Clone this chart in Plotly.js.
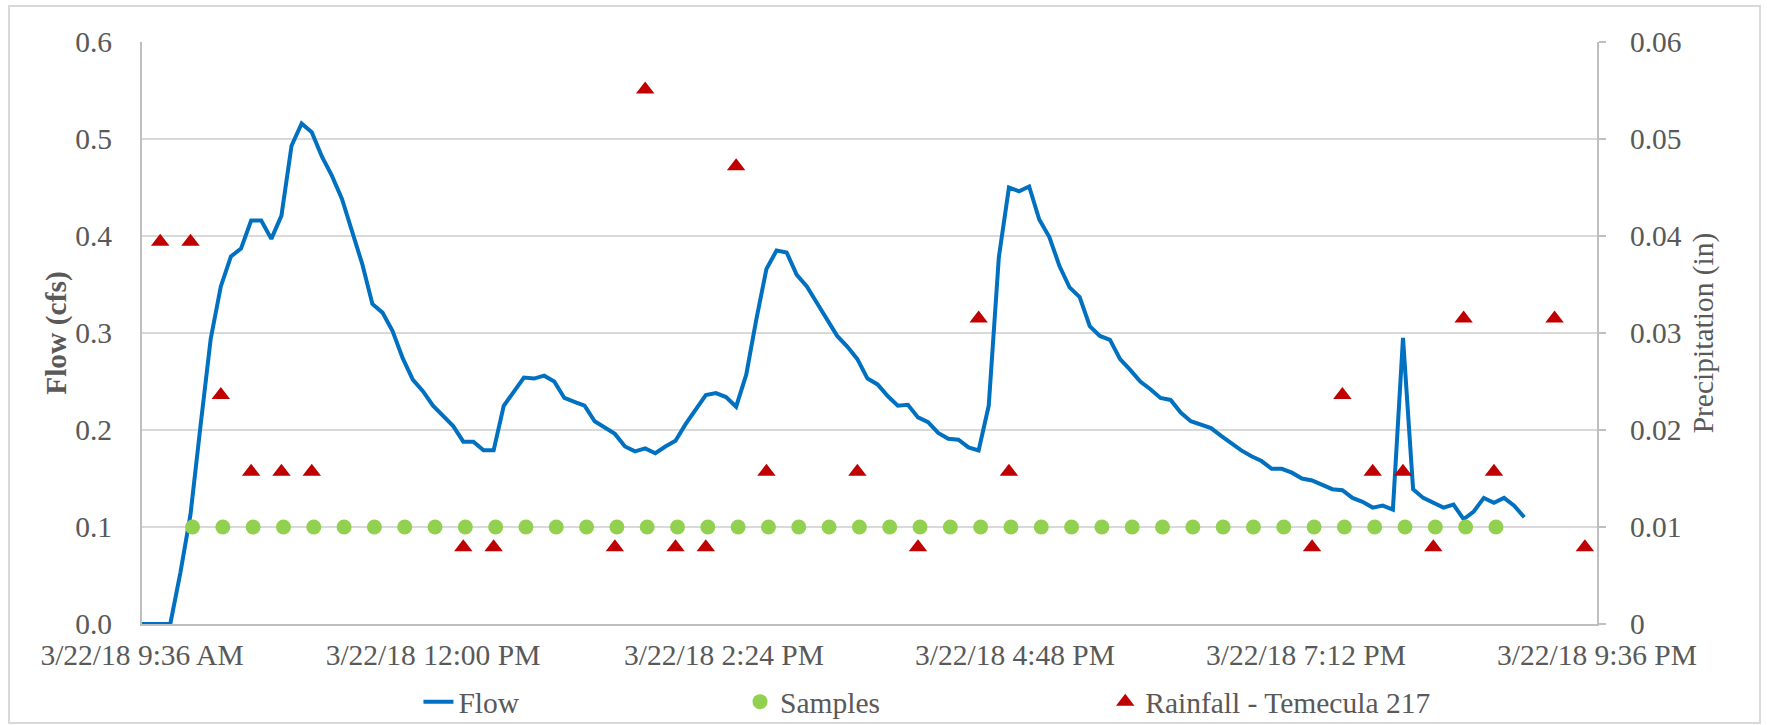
<!DOCTYPE html>
<html>
<head>
<meta charset="utf-8">
<script src="https://cdn.plot.ly/plotly-3.0.1.min.js"></script>
<style>html,body{margin:0;padding:0;background:#fff;}#chart{width:1767px;height:725px;}</style>
</head>
<body>
<div id="chart"></div>
<script>
const DAY = "2018-03-22 ";

const flowTimes = ["09:35","09:40","09:45","09:50","09:55","10:00","10:05","10:10","10:15","10:20","10:25","10:30","10:35","10:40","10:45","10:50","10:55","11:00","11:05","11:10","11:15","11:20","11:25","11:30","11:35","11:40","11:45","11:50","11:55","12:00","12:05","12:10","12:15","12:20","12:25","12:30","12:35","12:40","12:45","12:50","12:55","13:00","13:05","13:10","13:15","13:20","13:25","13:30","13:35","13:40","13:45","13:50","13:55","14:00","14:05","14:10","14:15","14:20","14:25","14:30","14:35","14:40","14:45","14:50","14:55","15:00","15:05","15:10","15:15","15:20","15:25","15:30","15:35","15:40","15:45","15:50","15:55","16:00","16:05","16:10","16:15","16:20","16:25","16:30","16:35","16:40","16:45","16:50","16:55","17:00","17:05","17:10","17:15","17:20","17:25","17:30","17:35","17:40","17:45","17:50","17:55","18:00","18:05","18:10","18:15","18:20","18:25","18:30","18:35","18:40","18:45","18:50","18:55","19:00","19:05","19:10","19:15","19:20","19:25","19:30","19:35","19:40","19:45","19:50","19:55","20:00","20:05","20:10","20:15","20:20","20:25","20:30","20:35","20:40","20:45","20:50","20:55","21:00"];

const flowValues = [0,0,0,0,0.053,0.113,0.205,0.294,0.348,0.379,0.387,0.416,0.416,0.397,0.421,0.493,0.516,0.507,0.482,0.462,0.438,0.404,0.371,0.330,0.321,0.302,0.274,0.252,0.240,0.225,0.214,0.204,0.188,0.188,0.179,0.179,0.225,0.240,0.254,0.253,0.256,0.250,0.233,0.229,0.225,0.209,0.203,0.196,0.183,0.178,0.181,0.176,0.183,0.189,0.206,0.221,0.236,0.238,0.234,0.224,0.257,0.314,0.366,0.385,0.383,0.360,0.348,0.331,0.314,0.297,0.286,0.273,0.253,0.247,0.235,0.225,0.226,0.213,0.208,0.197,0.191,0.190,0.182,0.179,0.225,0.378,0.450,0.446,0.451,0.417,0.399,0.369,0.347,0.337,0.307,0.297,0.293,0.273,0.262,0.250,0.242,0.233,0.231,0.218,0.209,0.205,0.202,0.194,0.186,0.179,0.173,0.168,0.160,0.160,0.156,0.150,0.148,0.144,0.139,0.138,0.130,0.126,0.120,0.122,0.118,0.295,0.139,0.130,0.125,0.120,0.123,0.108,0.116,0.130,0.125,0.130,0.122,0.110];

const sampleTimes = ["10:01","10:16","10:31","10:46","11:01","11:16","11:31","11:46","12:01","12:16","12:31","12:46","13:01","13:16","13:31","13:46","14:01","14:16","14:31","14:46","15:01","15:16","15:31","15:46","16:01","16:16","16:31","16:46","17:01","17:16","17:31","17:46","18:01","18:16","18:31","18:46","19:01","19:16","19:31","19:46","20:01","20:16","20:31","20:46"];
const sampleValues = [0.1,0.1,0.1,0.1,0.1,0.1,0.1,0.1,0.1,0.1,0.1,0.1,0.1,0.1,0.1,0.1,0.1,0.1,0.1,0.1,0.1,0.1,0.1,0.1,0.1,0.1,0.1,0.1,0.1,0.1,0.1,0.1,0.1,0.1,0.1,0.1,0.1,0.1,0.1,0.1,0.1,0.1,0.1,0.1];

const rainTimes = ["09:45","10:00","10:15","10:30","10:45","11:00","12:15","12:30","13:30","13:45","14:00","14:15","14:30","14:45","15:30","16:00","16:30","16:45","19:15","19:30","19:45","20:00","20:15","20:30","20:45","21:15","21:30"];
const rainValues = [0.0394,0.0394,0.0236,0.0157,0.0157,0.0157,0.0079,0.0079,0.0079,0.0551,0.0079,0.0079,0.0472,0.0157,0.0157,0.0079,0.0315,0.0157,0.0079,0.0236,0.0157,0.0157,0.0079,0.0315,0.0157,0.0315,0.0079];

const xTickTimes = ["09:36","12:00","14:24","16:48","19:12","21:36"];
const xTickLabels = ["3/22/18 9:36 AM","3/22/18 12:00 PM","3/22/18 2:24 PM","3/22/18 4:48 PM","3/22/18 7:12 PM","3/22/18 9:36 PM"];
const yLeftTicks = [0,0.1,0.2,0.3,0.4,0.5,0.6];
const yLeftLabels = ["0.0","0.1","0.2","0.3","0.4","0.5","0.6"];
const yRightTicks = [0,0.01,0.02,0.03,0.04,0.05,0.06];
const yRightLabels = ["0","0.01","0.02","0.03","0.04","0.05","0.06"];

const ts = a => a.map(t => DAY + t);
const FONT = "'Liberation Serif', 'Times New Roman', 'DejaVu Serif', serif";
const GREY = "#595959";
const FS = 29.5;

const traces = [
  {x: ts(flowTimes), y: flowValues, type: "scatter", mode: "lines", name: "Flow",
   line: {color: "#0070C0", width: 4}, legend: "legend", yaxis: "y"},
  {x: ts(sampleTimes), y: sampleValues, type: "scatter", mode: "markers", name: "Samples",
   marker: {color: "#92D050", size: 15, symbol: "circle"}, legend: "legend2", yaxis: "y"},
  {x: ts(rainTimes), y: rainValues, type: "scatter", mode: "markers", name: "Rainfall - Temecula 217",
   marker: {color: "#C00000", size: 16, symbol: "triangle-up"}, legend: "legend3", yaxis: "y2"}
];

const legendBase = {orientation: "h", yanchor: "middle", y: -0.134, xanchor: "left",
  font: {family: FONT, size: FS, color: GREY}, bgcolor: "rgba(0,0,0,0)", itemwidth: 30};

const layout = {
  width: 1767, height: 725,
  margin: {l: 142, r: 170, t: 42, b: 101, autoexpand: false},
  paper_bgcolor: "#fff", plot_bgcolor: "#fff",
  font: {family: FONT, size: FS, color: GREY},
  showlegend: true,
  legend: Object.assign({}, legendBase, {x: 0.190}),
  legend2: Object.assign({}, legendBase, {x: 0.411}),
  legend3: Object.assign({}, legendBase, {x: 0.662}),
  xaxis: {
    type: "date", range: [DAY + "09:36", DAY + "21:36"],
    tickvals: ts(xTickTimes), ticktext: xTickLabels,
    showgrid: false, showline: true, linecolor: "#BFBFBF", linewidth: 2,
    ticks: "", ticklabelstandoff: 4, zeroline: false, automargin: false,
    tickfont: {family: FONT, size: FS, color: GREY}
  },
  yaxis: {
    range: [0, 0.6], tickvals: yLeftTicks, ticktext: yLeftLabels,
    showgrid: true, gridcolor: "#D9D9D9", gridwidth: 2,
    showline: true, linecolor: "#BFBFBF", linewidth: 2,
    ticks: "", zeroline: false, ticklabelstandoff: 22, automargin: false,
    tickfont: {family: FONT, size: FS, color: GREY},
    title: {text: "<b>Flow (cfs)</b>", font: {family: FONT, size: FS, color: GREY}, standoff: 0}
  },
  yaxis2: {
    overlaying: "y", side: "right", range: [0, 0.06],
    tickvals: yRightTicks, ticktext: yRightLabels,
    showgrid: false, showline: true, linecolor: "#BFBFBF", linewidth: 2,
    ticks: "outside", ticklen: 7, tickcolor: "#BFBFBF", tickwidth: 2,
    zeroline: false, ticklabelstandoff: 18, automargin: false,
    tickfont: {family: FONT, size: FS, color: GREY},
    title: {text: "Precipitation (in)", font: {family: FONT, size: FS, color: GREY}, standoff: 12}
  },
  shapes: [
    {type: "rect", xref: "paper", yref: "paper",
     x0: (9 - 142) / 1455, x1: (1760 - 142) / 1455,
     y0: (624 - 723) / 582, y1: (624 - 6) / 582,
     line: {color: "#D9D9D9", width: 2}, fillcolor: "rgba(0,0,0,0)", layer: "below"}
  ]
};

Plotly.newPlot("chart", traces, layout, {staticPlot: true});
</script>
</body>
</html>
